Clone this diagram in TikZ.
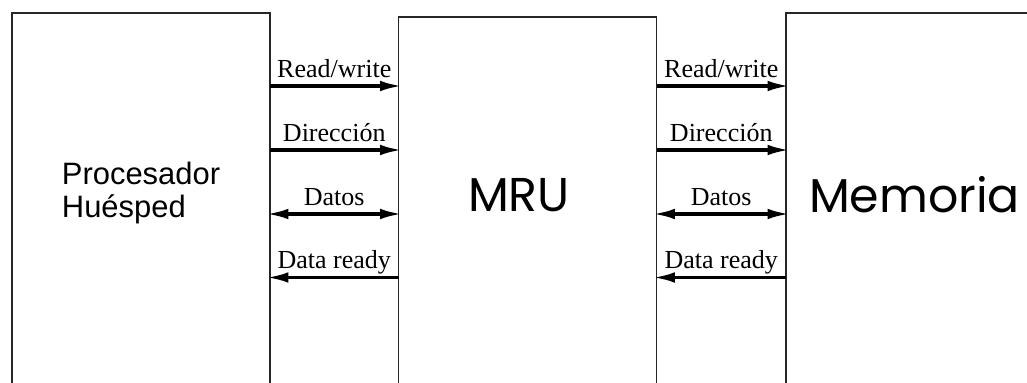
\documentclass[tikz,border=0pt]{standalone}
\usepackage{fontspec}
\setmainfont{Liberation Serif}
\newfontfamily\helv{Liberation Sans}
\newfontfamily\geom{Poppins}
\usetikzlibrary{arrows.meta,positioning}
\tikzset{
  unit/.style={draw=black!85, line width=0.6pt, minimum width=5.16cm, minimum height=9cm, anchor=north, inner sep=0pt, outer sep=0pt},
  wire/.style={line width=2.1pt},
  bus/.style={wire, shorten >=-2.5pt, -{Latex[length=13pt,width=6pt]}},
  busboth/.style={wire, shorten <=-2.5pt, shorten >=-2.5pt, {Latex[length=13pt,width=6pt]}-{Latex[length=13pt,width=6pt]}},
  busback/.style={wire, shorten <=-2.5pt, {Latex[length=13pt,width=6pt]}-},
  sig/.style={midway, anchor=base, yshift=0.17cm, inner sep=0pt, font=\fontsize{14.8}{17}\selectfont},
}
% one bus line between two units, at height #3
\newcommand{\busline}[5]{\draw[#5] (#1.east |- 0,#3) -- node[sig] {#4} (#2.west |- 0,#3);}

\begin{document}
\begin{tikzpicture}
        \useasboundingbox (0,0) rectangle (20.54,-7.66);
        \clip (0,0) rectangle (20.54,-7.66);
        % units
        \node[unit] (host) at (2.82,-0.26) {};
        \node[unit] (mru) at (10.55,-0.34) {};
        \node[unit] (mem) at (18.30,-0.26) {};
        % names
        \node[align=left, font=\helv\fontsize{17.6}{18.8}\selectfont] (hostname) at (2.82,-3.86) {Procesador\\Huésped};
        \node[font=\geom\fontsize{27}{30}\selectfont] (mruname) at (10.38,-3.9) {MRU};
        \node[font=\geom\fontsize{27}{30}\selectfont] (memname) at (18.29,-3.9) {Memoria};
        % host <-> mru
        \busline{host}{mru}{-1.72}{Read/write}{bus}
        \busline{host}{mru}{-3.0}{Dirección}{bus}
        \busline{host}{mru}{-4.28}{Datos}{busboth}
        \busline{host}{mru}{-5.55}{Data ready}{busback}
        % mru <-> memoria
        \busline{mru}{mem}{-1.72}{Read/write}{bus}
        \busline{mru}{mem}{-3.0}{Dirección}{bus}
        \busline{mru}{mem}{-4.28}{Datos}{busboth}
        \busline{mru}{mem}{-5.55}{Data ready}{busback}
\end{tikzpicture}
\end{document}
